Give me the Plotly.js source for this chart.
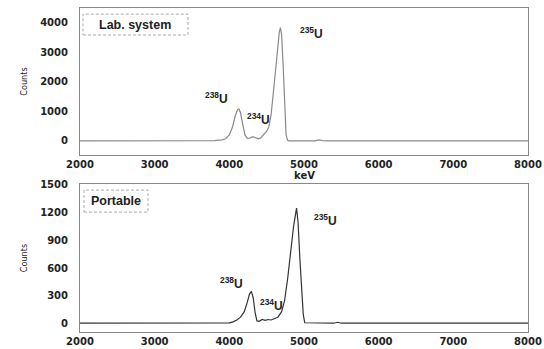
<!DOCTYPE html>
<html><head><meta charset="utf-8">
<script src="https://cdn.plot.ly/plotly-3.0.1.min.js"></script>
<style>html,body{margin:0;padding:0;background:#fff}#chart{width:544px;height:349px}</style>
</head><body><div id="chart"></div>
<script>
// Lab. system spectrum
const labEnergy = [2000,3500,3800,3900,3950,4000,4040,4080,4110,4130,4150,4180,4210,4240,4270,4310,4350,4390,4420,4460,4500,4530,4560,4600,4640,4670,4685,4700,4720,4740,4760,4780,4800,5150,5200,5250,5300,8000];
const labCounts = [0,0,5,30,70,200,450,850,1060,1080,950,550,200,80,90,140,110,70,100,200,330,480,900,1900,3000,3700,3830,3600,2600,1200,200,20,0,0,30,10,0,0];
// Portable spectrum
const portEnergy = [2000,3500,4000,4050,4100,4150,4200,4240,4270,4295,4320,4345,4370,4400,4440,4480,4520,4560,4600,4650,4700,4740,4780,4820,4860,4900,4920,4945,4970,4990,5010,5400,5450,5500,8000];
const portCounts = [5,5,8,20,40,70,130,230,320,350,280,120,30,25,45,35,45,40,50,70,130,250,480,750,1050,1250,1100,700,350,100,10,5,15,5,5];
// Labels
const panelLabels = ["Lab. system","Portable"];
const peakLabels = ["<sup>238</sup>U","<sup>234</sup>U","<sup>235</sup>U"];
const labPeakPos = [[3834,1458],[4396,746],[5106,3661]];
const portPeakPos = [[4035,440],[4570,202],[5293,1121]];
const xTicks = [2000,3000,4000,5000,6000,7000,8000];
const labYTicks = [0,1000,2000,3000,4000];
const portYTicks = [0,300,600,900,1200,1500];
const xTitle = "keV";
const yTitle = "Counts";

const tickFont = {family:"DejaVu Sans", size:10, color:"#222", weight:700};
const axBase = {showgrid:false, zeroline:false, showline:true, linecolor:"#888", linewidth:1, mirror:true, ticks:"", tickfont:tickFont};

const traces = [
  {x:labEnergy, y:labCounts, type:"scatter", mode:"lines", line:{color:"#8a8a8a", width:1.2}, xaxis:"x", yaxis:"y", hoverinfo:"skip"},
  {x:portEnergy, y:portCounts, type:"scatter", mode:"lines", line:{color:"#333", width:1.2}, xaxis:"x2", yaxis:"y2", hoverinfo:"skip"}
];

const annFont = {family:"Liberation Sans", size:12, color:"#222", weight:700};
const xTitleFont = {family:"DejaVu Sans", size:10, color:"#222", weight:700};
const annotations = [];
peakLabels.forEach((t,i)=>{
  annotations.push({x:labPeakPos[i][0], y:labPeakPos[i][1], xref:"x", yref:"y", text:t, showarrow:false, font:annFont, xanchor:"center", yanchor:"middle"});
  annotations.push({x:portPeakPos[i][0], y:portPeakPos[i][1], xref:"x2", yref:"y2", text:t, showarrow:false, font:annFont, xanchor:"center", yanchor:"middle"});
});
annotations.push({x:0.1228, y:0.949, xref:"paper", yref:"paper", text:panelLabels[0], showarrow:false, xanchor:"center", yanchor:"middle", font:{family:"Liberation Sans", size:12.5, color:"#222", weight:700}});
annotations.push({x:0.080, y:0.404, xref:"paper", yref:"paper", text:panelLabels[1], showarrow:false, xanchor:"center", yanchor:"middle", font:{family:"Liberation Sans", size:12.5, color:"#222", weight:700}});
// x-axis titles
annotations.push({x:0.502, y:0.483, xref:"paper", yref:"paper", text:xTitle, showarrow:false, xanchor:"center", yanchor:"middle", font:xTitleFont});
annotations.push({x:0.502, y:-0.043, xref:"paper", yref:"paper", text:xTitle, showarrow:false, xanchor:"center", yanchor:"top", font:xTitleFont});

const shapes = [
  {type:"rect", xref:"paper", yref:"paper", x0:0.0067, x1:0.241, y0:0.9167, y1:0.981, line:{color:"#aaa", width:1, dash:"3px,2px"}},
  {type:"rect", xref:"paper", yref:"paper", x0:0.0089, x1:0.1518, y0:0.370, y1:0.438, line:{color:"#aaa", width:1, dash:"3px,2px"}}
];

const titleFont = {family:"DejaVu Sans Condensed", size:9, color:"#222"};

const layout = {
  width:544, height:349,
  margin:{l:80, r:16, t:8, b:17},
  paper_bgcolor:"#fff", plot_bgcolor:"#fff",
  showlegend:false,
  xaxis:Object.assign({}, axBase, {domain:[0,1], anchor:"y", range:[2000,8000], tickvals:xTicks, ticktext:xTicks.map(String), ticklabelstandoff:0}),
  yaxis:Object.assign({}, axBase, {domain:[0.5463,1], anchor:"x", range:[-480,4500], tickvals:labYTicks, ticktext:labYTicks.map(String), ticklabelstandoff:9, title:{text:yTitle, font:titleFont, standoff:10}}),
  xaxis2:Object.assign({}, axBase, {domain:[0,1], anchor:"y2", range:[2000,8000], tickvals:xTicks, ticktext:xTicks.map(String), ticklabelstandoff:0}),
  yaxis2:Object.assign({}, axBase, {domain:[0,0.4568], anchor:"x2", range:[-90,1510], tickvals:portYTicks, ticktext:portYTicks.map(String), ticklabelstandoff:9, title:{text:yTitle, font:titleFont, standoff:10}}),
  annotations:annotations,
  shapes:shapes
};

Plotly.newPlot("chart", traces, layout, {displayModeBar:false, staticPlot:true});
</script>
</body></html>
